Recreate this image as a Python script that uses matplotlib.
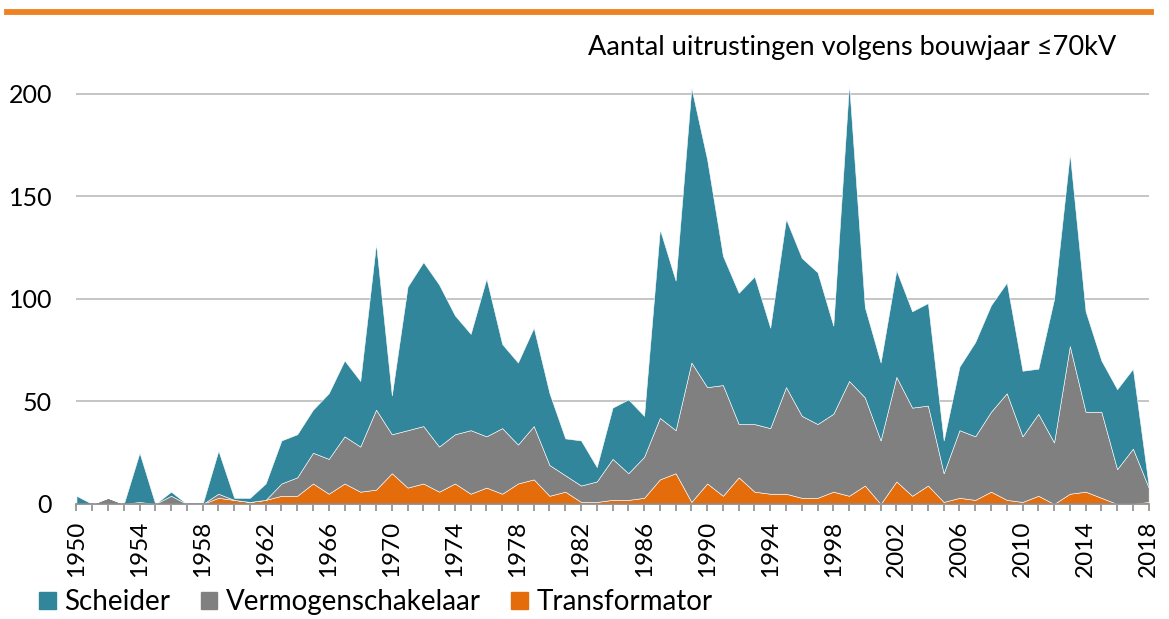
import matplotlib
matplotlib.use("Agg")
from matplotlib import pyplot as plt
from matplotlib.lines import Line2D
from matplotlib.patches import Patch

plt.rcParams['font.family'] = ['Lato', 'DejaVu Sans']

years = list(range(1950, 2019))

# waarden per bouwjaar (niet gestapeld)
transformator = [0, 0, 0, 0, 0, 0, 0, 0, 0, 3, 2, 1, 2, 4, 4, 10, 5, 10, 6, 7,
                 15, 8, 10, 6, 10, 5, 8, 5, 10, 12, 4, 6, 1, 1, 2, 2, 3, 12, 15, 1,
                 10, 4, 13, 6, 5, 5, 3, 3, 6, 4, 9, 0, 11, 4, 9, 1, 3, 2, 6, 2,
                 1, 4, 0, 5, 6, 3, 0, 0, 1]
vermogenschakelaar = [0, 0, 3, 0, 1, 0, 4, 0, 0, 2, 0, 0, 0, 6, 9, 15, 17, 23, 22, 39,
                      19, 28, 28, 22, 24, 31, 25, 32, 19, 26, 15, 8, 8, 10, 20, 13, 20, 30, 21, 68,
                      47, 54, 26, 33, 32, 52, 40, 36, 38, 56, 43, 31, 51, 43, 39, 14, 33, 31, 39, 52,
                      32, 40, 30, 72, 39, 42, 17, 27, 7]
scheider = [4, 0, 0, 0, 24, 0, 2, 0, 0, 21, 1, 2, 8, 21, 21, 21, 32, 37, 32, 81,
            19, 70, 80, 79, 58, 47, 77, 41, 40, 48, 35, 18, 22, 7, 25, 36, 20, 92, 73, 134,
            111, 63, 64, 72, 49, 82, 77, 74, 43, 145, 44, 38, 52, 47, 50, 16, 31, 46, 52, 54,
            32, 22, 70, 94, 49, 25, 39, 39, 1]

labels = ['Transformator', 'Vermogenschakelaar', 'Scheider']
colors = ['#E46C0A', '#808080', '#31869B']

fig = plt.figure(figsize=(11.69, 6.19), dpi=100)
ax = fig.add_axes([0.0654, 0.1858, 0.9172, 0.7286])

ax.stackplot(years, transformator, vermogenschakelaar, scheider,
             colors=colors, edgecolor='white', linewidth=0.4)

ax.set_xlim(1950, 2018)
ax.set_ylim(0, 220)
ax.set_yticks([0, 50, 100, 150, 200])
ax.yaxis.grid(True, color='#C0C0C0', linewidth=1.3)
ax.set_axisbelow(True)
ax.tick_params(axis='y', length=0, pad=17.5, labelsize=18)

ax.set_xticks(range(1950, 2019, 4))
ax.set_xticks(years, minor=True)
ax.tick_params(axis='x', which='both', direction='out', length=5, color='#8C8C8C',
               width=1.2, labelsize=17.5, labelrotation=90, pad=7)

for s in ['left', 'right', 'top']:
    ax.spines[s].set_visible(False)
ax.spines['bottom'].set_color('#8C8C8C')
ax.spines['bottom'].set_linewidth(1.2)

fig.text(0.955, 0.924, 'Aantal uitrustingen volgens bouwjaar ≤70kV',
         ha='right', va='center', fontsize=19.5)

# oranje balk bovenaan
fig.add_artist(Line2D([0.006, 0.985], [0.981, 0.981], color='#EE8122',
                      linewidth=4.2, transform=fig.transFigure))

handles = [Patch(color=c) for c in colors[::-1]]
fig.legend(handles, labels[::-1], loc='center left', bbox_to_anchor=(0.0334, 0.027),
           ncol=3, frameon=False, fontsize=20, handlelength=0.6, handleheight=0.6,
           handletextpad=0.3, columnspacing=1.1, borderpad=0, borderaxespad=0)

plt.savefig('out.png')
